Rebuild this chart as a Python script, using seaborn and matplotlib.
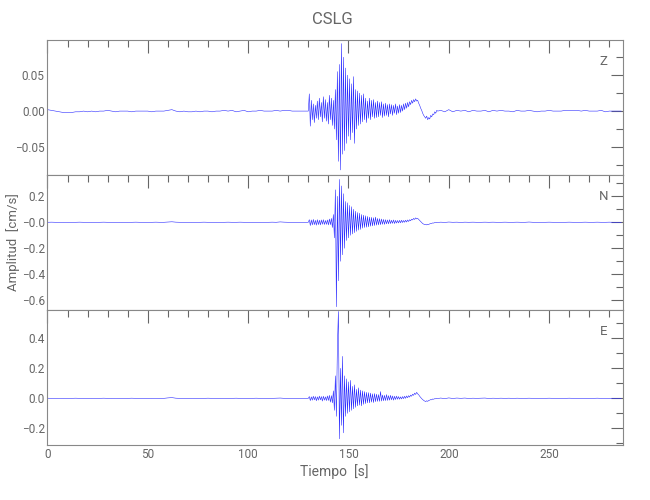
import numpy as np
import pandas as pd
import matplotlib
matplotlib.use("Agg")
import matplotlib.pyplot as plt
from matplotlib.ticker import MultipleLocator, FixedLocator, FixedFormatter
import seaborn as sns

# ── Sampling of the record (s) ───────────────────────────────────────────────
T_PRE = np.arange(0.0, 130.0, 2.0)      # quiet part before the event
T_ACT = np.arange(130.0, 195.0, 0.5)    # active part
T_POST = np.arange(196.0, 287.0, 2.0)   # coda / quiet tail

# ── Z component (cm/s) ───────────────────────────────────────────────────────
Z_PRE = [0.002, 0.001, 0.000, -0.001, -0.002, -0.002, -0.002, -0.001, -0.001, 0.000,
         -0.001, 0.000, -0.001, 0.000, 0.000, 0.001, 0.000, -0.001, 0.000, 0.000,
         0.000, -0.001, 0.000, 0.000, 0.000, 0.000, -0.001, 0.000, 0.000, 0.000,
         0.001, 0.002, 0.000, -0.001, 0.000, -0.001, -0.001, 0.000, -0.001, 0.000,
         0.000, -0.001, 0.000, 0.000, 0.001, 0.000, 0.001, -0.001, 0.000, 0.001,
         -0.001, 0.000, 0.000, 0.001, 0.000, 0.000, 0.000, 0.001, 0.000, 0.001,
         0.001, 0.000, 0.000, 0.000, 0.000]
Z_ACT = [0.000, 0.024, -0.021, 0.015, -0.012, 0.010, -0.016, 0.008, -0.010, 0.014,
         -0.012, 0.018, -0.008, 0.012, -0.015, 0.020, -0.010, 0.016, -0.014, 0.012,
         -0.018, 0.022, -0.012, 0.018, -0.020, 0.015, -0.025, 0.030, -0.040, 0.055,
         -0.070, 0.065, -0.082, 0.094, -0.060, 0.075, -0.055, 0.060, -0.045, 0.050,
         -0.035, 0.045, -0.040, 0.038, -0.030, 0.048, -0.045, 0.030, -0.025, 0.028,
         -0.020, 0.025, -0.018, 0.022, -0.015, 0.024, -0.012, 0.018, -0.016, 0.014,
         -0.010, 0.018, -0.012, 0.015, -0.008, 0.016, -0.010, 0.012, -0.009, 0.014,
         -0.008, 0.012, -0.006, 0.013, -0.009, 0.010, -0.007, 0.011, -0.006, 0.009,
         -0.008, 0.010, -0.004, 0.009, -0.006, 0.008, -0.003, 0.010, -0.005, 0.007,
         -0.003, 0.009, -0.002, 0.008, 0.000, 0.010, 0.002, 0.011, 0.004, 0.012,
         0.006, 0.013, 0.009, 0.015, 0.011, 0.016, 0.013, 0.017, 0.014, 0.015,
         0.011, 0.008, 0.004, 0.001, -0.003, -0.006, -0.008, -0.010, -0.007, -0.012,
         -0.009, -0.011, -0.006, -0.008, -0.004, -0.005, -0.001, -0.003, 0.001, 0.000]
Z_POST = [0.001, -0.001, 0.002, -0.001, 0.001, 0.000, 0.001, -0.001, 0.001, 0.000,
          0.000, 0.001, -0.001, 0.001, 0.000, 0.001, 0.000, 0.000, -0.001, 0.001,
          0.000, 0.000, 0.001, 0.000, -0.001, 0.000, 0.000, 0.001, 0.000, 0.000,
          0.000, 0.001, 0.001, 0.001, 0.001, 0.000, 0.001, 0.000, 0.000, 0.000,
          0.001, -0.001, 0.000, 0.000, 0.000, 0.000]

# ── N component (cm/s) ───────────────────────────────────────────────────────
N_PRE = [0.000, 0.001, 0.000, -0.001, 0.000, 0.000, -0.001, 0.000, 0.001, 0.000,
         0.000, 0.000, -0.001, 0.000, 0.001, 0.000, 0.000, 0.000, 0.000, -0.001,
         0.000, 0.000, 0.001, 0.000, 0.000, 0.000, 0.000, 0.001, 0.000, 0.000,
         0.002, 0.004, 0.001, 0.000, 0.000, -0.001, 0.000, 0.000, 0.000, 0.001,
         0.000, 0.000, 0.000, -0.001, 0.000, 0.001, 0.000, 0.000, 0.001, 0.000,
         0.000, 0.000, -0.001, 0.000, 0.000, 0.000, 0.001, 0.000, 0.003, 0.001,
         0.000, 0.000, 0.000, 0.000, 0.000]
N_ACT = [0.000, 0.020, -0.025, 0.018, -0.020, 0.022, -0.018, 0.015, -0.022, 0.020,
         -0.018, 0.016, -0.020, 0.018, -0.015, 0.020, -0.017, 0.014, -0.016, 0.018,
         -0.020, 0.025, -0.018, 0.030, -0.040, 0.060, -0.120, 0.250, -0.650, 0.200,
         -0.450, 0.330, -0.300, 0.280, -0.250, 0.220, -0.200, 0.160, -0.140, 0.150,
         -0.120, 0.130, -0.100, 0.120, -0.090, 0.100, -0.080, 0.085, -0.070, 0.075,
         -0.060, 0.070, -0.055, 0.060, -0.045, 0.055, -0.040, 0.050, -0.038, 0.045,
         -0.035, 0.040, -0.030, 0.038, -0.028, 0.035, -0.025, 0.040, -0.022, 0.030,
         -0.020, 0.028, -0.018, 0.025, -0.015, 0.022, -0.016, 0.020, -0.012, 0.018,
         -0.012, 0.020, -0.010, 0.016, -0.008, 0.018, -0.010, 0.015, -0.006, 0.014,
         -0.005, 0.015, -0.004, 0.016, -0.002, 0.014, 0.000, 0.016, 0.002, 0.018,
         0.006, 0.020, 0.012, 0.024, 0.018, 0.030, 0.022, 0.034, 0.026, 0.030,
         0.022, 0.014, 0.006, -0.002, -0.010, -0.014, -0.018, -0.016, -0.020, -0.015,
         -0.017, -0.012, -0.010, -0.008, -0.005, -0.006, -0.002, -0.003, 0.000, -0.001]
N_POST = [0.001, -0.001, 0.002, 0.000, 0.001, -0.001, 0.001, 0.000, 0.001, 0.000,
          0.000, 0.001, 0.000, 0.001, 0.000, 0.000, 0.001, 0.000, 0.000, 0.001,
          0.000, 0.000, 0.002, 0.000, 0.000, 0.000, 0.000, 0.001, 0.000, 0.000,
          0.000, 0.000, 0.001, 0.000, 0.000, 0.000, 0.001, 0.000, 0.000, 0.001,
          0.000, 0.000, 0.001, 0.000, 0.000, 0.000]

# ── E component (cm/s) ───────────────────────────────────────────────────────
E_PRE = [0.001, 0.000, 0.000, -0.001, 0.000, 0.000, 0.000, 0.001, 0.000, 0.000,
         -0.001, 0.000, 0.000, 0.000, 0.001, 0.000, 0.000, -0.001, 0.000, 0.000,
         0.000, 0.001, 0.000, 0.000, 0.000, 0.000, 0.000, -0.001, 0.000, 0.000,
         0.003, 0.005, 0.001, 0.000, 0.000, 0.000, -0.001, 0.000, 0.000, 0.000,
         0.001, 0.000, 0.000, 0.000, -0.001, 0.000, 0.000, 0.001, 0.000, 0.000,
         0.000, 0.000, 0.001, 0.000, 0.000, 0.000, 0.000, 0.001, 0.002, 0.000,
         0.000, 0.000, 0.000, 0.000, 0.000]
E_ACT = [0.000, 0.012, -0.015, 0.010, -0.012, 0.014, -0.010, 0.012, -0.016, 0.010,
         -0.012, 0.015, -0.010, 0.012, -0.018, 0.014, -0.012, 0.010, -0.015, 0.016,
         -0.014, 0.020, -0.025, 0.018, -0.030, 0.050, -0.080, 0.150, -0.120, 0.350,
         0.580, -0.270, 0.200, -0.180, 0.280, -0.230, 0.150, -0.120, 0.130, -0.100,
         0.110, -0.090, 0.120, -0.080, 0.080, -0.070, 0.090, -0.060, 0.060, -0.050,
         0.070, -0.045, 0.055, -0.050, 0.050, -0.040, 0.045, -0.035, 0.040, -0.030,
         0.038, -0.030, 0.035, -0.025, 0.030, -0.028, 0.032, -0.022, 0.028, -0.020,
         0.025, -0.020, 0.045, -0.018, 0.022, -0.016, 0.020, -0.015, 0.025, -0.014,
         0.018, -0.012, 0.020, -0.010, 0.016, -0.012, 0.014, -0.008, 0.015, -0.006,
         0.012, -0.006, 0.010, -0.004, 0.012, -0.002, 0.014, 0.000, 0.016, 0.004,
         0.018, 0.008, 0.022, 0.014, 0.028, 0.020, 0.035, 0.026, 0.040, 0.030,
         0.024, 0.014, 0.006, -0.002, -0.008, -0.014, -0.018, -0.022, -0.016, -0.020,
         -0.014, -0.012, -0.008, -0.010, -0.004, -0.006, -0.002, -0.003, 0.000, -0.001]
E_POST = [0.002, -0.002, 0.003, -0.001, 0.002, 0.000, 0.002, -0.001, 0.001, 0.000,
          0.001, 0.002, -0.001, 0.001, 0.000, 0.001, 0.000, 0.001, -0.001, 0.001,
          0.000, 0.000, 0.001, 0.000, 0.000, 0.000, 0.000, 0.001, 0.000, 0.000,
          0.000, 0.000, 0.001, 0.000, 0.000, 0.000, 0.000, 0.000, 0.000, 0.001,
          0.000, 0.000, 0.000, 0.000, 0.000, 0.000]

COMPONENTS = ["Z", "N", "E"]
YLIMS = {"Z": (-0.089, 0.099), "N": (-0.675, 0.364), "E": (-0.311, 0.589)}
YMAJOR = {"Z": [-0.05, 0.0, 0.05], "N": [-0.6, -0.4, -0.2, 0.0, 0.2], "E": [-0.2, 0.0, 0.2, 0.4]}
YLABELS = {"Z": ["\u22120.05", "0.00", "0.05"],
           "N": ["\u22120.6", "\u22120.4", "\u22120.2", "\u22120.0", "0.2"],
           "E": ["\u22120.2", "0.0", "0.2", "0.4"]}
YMINOR = {"Z": 0.025, "N": 0.1, "E": 0.1}
XTICKS = [0, 50, 100, 150, 200, 250]

t = np.concatenate([T_PRE, T_ACT, T_POST])
df = pd.DataFrame({
    "Tiempo": np.tile(t, 3),
    "Amp": Z_PRE + Z_ACT + Z_POST + N_PRE + N_ACT + N_POST + E_PRE + E_ACT + E_POST,
    "Comp": np.repeat(COMPONENTS, len(t)),
})

sns.set_style("white")
plt.rcParams["font.family"] = ["Roboto", "DejaVu Sans"]
GREY = "#666666"

fig = plt.figure(figsize=(6.5, 5), dpi=100)
left, width, h = 0.073, 0.886, 0.27
bottoms = [0.65, 0.38, 0.11]

for comp, b in zip(COMPONENTS, bottoms):
    ax = fig.add_axes([left, b, width, h])
    sns.lineplot(data=df[df["Comp"] == comp], x="Tiempo", y="Amp", ax=ax,
                 color="#2a2aff", linewidth=0.4, estimator=None, sort=False)
    ax.set_xlim(0, 287)
    ax.set_ylim(*YLIMS[comp])
    ax.yaxis.set_major_locator(FixedLocator(YMAJOR[comp]))
    ax.yaxis.set_major_formatter(FixedFormatter(YLABELS[comp]))
    ax.yaxis.set_minor_locator(MultipleLocator(YMINOR[comp]))
    ax.xaxis.set_major_locator(FixedLocator(XTICKS))
    ax.xaxis.set_minor_locator(MultipleLocator(10))
    ax.tick_params(which="both", direction="in", top=True, right=True,
                   colors=GREY, labelsize=8.5, pad=2)
    ax.tick_params(which="major", length=9, width=0.8)
    ax.tick_params(which="minor", length=5, width=0.8)
    for sp in ax.spines.values():
        sp.set_color("#888888")
        sp.set_linewidth(0.8)
    ax.set_xlabel("")
    ax.set_ylabel("")
    if comp != "E":
        ax.tick_params(labelbottom=False)
    ax.text(0.965, 0.84, comp, transform=ax.transAxes, ha="center", va="center",
            fontsize=9.5, color=GREY)

fig.text(0.512, 0.96, "CSLG", ha="center", va="center", fontsize=12, color=GREY)
fig.text(0.020, 0.516, "Amplitud  [cm/s]", rotation=90, ha="center", va="center",
         fontsize=9.5, color=GREY)
fig.text(0.515, 0.057, "Tiempo  [s]", ha="center", va="center", fontsize=10, color=GREY)

fig.savefig("out.png", dpi=100)
